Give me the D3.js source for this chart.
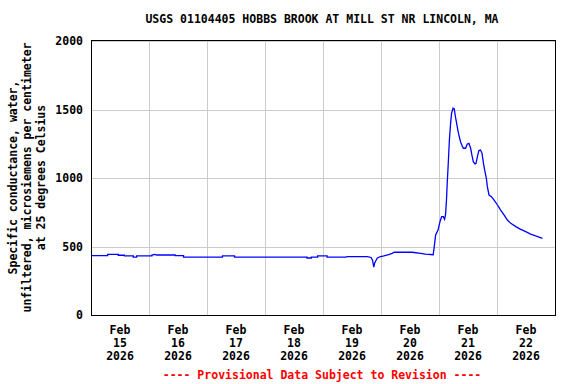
<!DOCTYPE html>
<html>
<head>
<meta charset="utf-8">
<script src="https://cdn.jsdelivr.net/npm/d3@7"></script>
<style>
  body { margin: 0; background: #fff; }
  text { font-family: "DejaVu Sans Mono", monospace; font-weight: bold; font-size: 11.5px; }
</style>
</head>
<body>
<div id="chart"></div>
<script>
var title = "USGS 01104405 HOBBS BROOK AT MILL ST NR LINCOLN, MA";
var yTitle = ["Specific conductance, water,", "unfiltered, microsiemens per centimeter", "at 25 degrees Celsius"];
var footer = "---- Provisional Data Subject to Revision ----";

var startDate = new Date(2026, 1, 15, 0, 0);
var endDate = new Date(2026, 1, 23, 0, 0);
var dayLabels = ["15", "16", "17", "18", "19", "20", "21", "22"];
var yTicks = [0, 500, 1000, 1500, 2000];

// hours after Feb 15 00:00
var hours = [0, 6.9, 6.9, 11.3, 11.3, 13.8, 13.8, 17.5, 17.5, 18.9, 18.9, 25.2, 25.2, 26.5, 27.2, 34.8,
    34.8, 38.3, 38.3, 54.4, 54.4, 59.4, 59.4, 89.4, 89.4, 91.2, 91.2, 93.8, 93.8, 97.7, 97.7, 105.3,
    106, 114.3, 115.9, 116.5, 117.0, 117.4, 118.4, 119.5, 121.2, 123.2, 124.6, 125.5, 132.9, 136.4, 138.4, 141.6,
    142.2, 142.6, 143.6, 144.4, 145.1, 145.8, 146.3, 146.7, 147.1, 147.4, 147.8, 148.3, 148.8, 149.2, 149.8,
    150.3, 150.8, 151.3, 151.8, 152.4, 152.9, 153.6, 154.1, 155.0, 155.7, 156.4, 157.1, 157.6, 158.2, 158.9,
    159.3, 159.9, 160.5, 161.2, 161.8, 162.4, 162.9, 163.6, 164.0, 164.7, 165.7, 166.8, 168.2, 169.5, 170.9,
    172.3, 173.7, 175.8, 177.8, 179.9, 181.9, 184.0, 186.8];
var conductance = [433, 433, 443, 443, 436, 436, 431, 431, 423, 423, 431, 431, 438, 443, 438, 438,
    433, 433, 423, 423, 431, 431, 423, 423, 416, 416, 423, 423, 431, 431, 423, 423,
    426, 426, 420, 400, 350, 380, 415, 425, 431, 440, 450, 458, 458, 450, 444, 440,
    523, 584, 620, 681, 718, 718, 699, 730, 839, 961, 1095, 1277, 1399, 1472, 1509,
    1505, 1447, 1399, 1350, 1301, 1265, 1234, 1217, 1217, 1248, 1253, 1217, 1168, 1119, 1102,
    1105, 1156, 1200, 1204, 1180, 1107, 1058, 998, 937, 876, 864, 839, 803, 766, 730,
    693, 669, 645, 625, 608, 591, 577, 560];

var data = hours.map((h, i) => ({ t: startDate.getTime() + h * 3600000, v: conductance[i] }));

var W = 576, H = 384;
var m = { left: 91, right: 21, top: 40, bottom: 69 };

var svg = d3.select("#chart").append("svg")
    .attr("width", W).attr("height", H);

var x = d3.scaleTime().domain([startDate, endDate]).range([m.left, W - m.right]);
var y = d3.scaleLinear().domain([0, 2000]).range([H - m.bottom, m.top + 1]);

// grid
var days = d3.timeDay.range(startDate, endDate).slice(1);
svg.append("g").selectAll("line").data(days).enter().append("line")
    .attr("x1", d => Math.round(x(d)) + 0.5).attr("x2", d => Math.round(x(d)) + 0.5)
    .attr("y1", m.top).attr("y2", H - m.bottom)
    .attr("stroke", "#cccccc");
svg.append("g").selectAll("line").data(yTicks).enter().append("line")
    .attr("x1", m.left).attr("x2", W - m.right)
    .attr("y1", d => Math.round(y(d)) + 0.5).attr("y2", d => Math.round(y(d)) + 0.5)
    .attr("stroke", "#cccccc");

// data line
var line = d3.line().x(d => x(d.t)).y(d => y(d.v));
svg.append("path").datum(data)
    .attr("d", line)
    .attr("fill", "none")
    .attr("stroke", "#0000ff")
    .attr("stroke-width", 1.3);

// frame
svg.append("rect")
    .attr("x", m.left + 0.5).attr("y", m.top + 0.5)
    .attr("width", W - m.left - m.right).attr("height", H - m.top - m.bottom)
    .attr("fill", "none").attr("stroke", "#000");

// y labels
svg.append("g").selectAll("text").data(yTicks).enter().append("text")
    .attr("x", 83).attr("y", d => y(d))
    .attr("dy", "0.35em")
    .attr("text-anchor", "end")
    .text(d => d);

// x labels at noon
var noons = dayLabels.map((d, i) => d3.timeHour.offset(startDate, 12 + 24 * i));
var xl = svg.append("g").selectAll("g").data(noons).enter().append("g")
    .attr("transform", d => `translate(${x(d)},0)`);
xl.append("text").attr("y", 334).attr("text-anchor", "middle").text("Feb");
xl.append("text").attr("y", 347).attr("text-anchor", "middle").text((d, i) => dayLabels[i]);
xl.append("text").attr("y", 360).attr("text-anchor", "middle").text("2026");

// titles
svg.append("text").attr("x", 322).attr("y", 23).attr("text-anchor", "middle").text(title);
svg.append("text").attr("x", 322).attr("y", 379).attr("text-anchor", "middle")
    .attr("fill", "#ff0000").text(footer);

var cy = (m.top + H - m.bottom) / 2;
svg.append("g").selectAll("text").data(yTitle).enter().append("text")
    .attr("transform", (d, i) => `translate(${17 + i * 14},${cy}) rotate(-90)`)
    .attr("text-anchor", "middle")
    .text(d => d);
</script>
</body>
</html>
